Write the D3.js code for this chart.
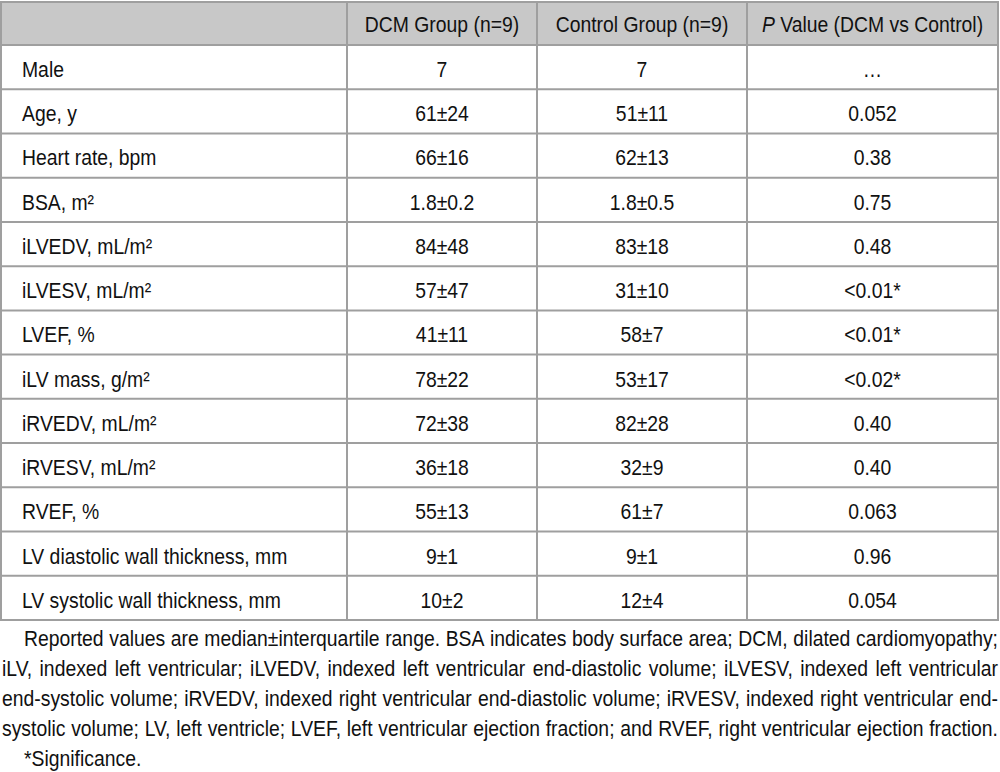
<!DOCTYPE html>
<html>
<head>
<meta charset="utf-8">
<script src="https://cdnjs.cloudflare.com/ajax/libs/d3/7.8.5/d3.min.js"></script>
<style>
  body { margin: 0; background: #fff; }
  svg { display: block; }
  text { font-family: "Liberation Sans", Arial, sans-serif; font-size: 22px; fill: #111; }
</style>
</head>
<body>
<script>
const width = 1000;
const height = 772;
const squeeze = 0.88; // narrow face: shrink glyphs horizontally

const columns = ["", "DCM Group (n=9)", "Control Group (n=9)", "Value (DCM vs Control)"];
const colEdges = [1, 347, 537, 747, 998];

const labels = ["Male", "Age, y", "Heart rate, bpm", "BSA, m²", "iLVEDV, mL/m²", "iLVESV, mL/m²",
  "LVEF, %", "iLV mass, g/m²", "iRVEDV, mL/m²", "iRVESV, mL/m²", "RVEF, %",
  "LV diastolic wall thickness, mm", "LV systolic wall thickness, mm"];
const dcm = ["7", "61±24", "66±16", "1.8±0.2", "84±48", "57±47", "41±11", "78±22", "72±38", "36±18", "55±13", "9±1", "10±2"];
const control = ["7", "51±11", "62±13", "1.8±0.5", "83±18", "31±10", "58±7", "53±17", "82±28", "32±9", "61±7", "9±1", "12±4"];
const pvals = ["…", "0.052", "0.38", "0.75", "0.48", "<0.01*", "<0.01*", "<0.02*", "0.40", "0.40", "0.063", "0.96", "0.054"];

// footnote, broken into lines as printed
const noteLines = [
  "Reported values are median±interquartile range. BSA indicates body surface area; DCM, dilated cardiomyopathy;",
  "iLV, indexed left ventricular; iLVEDV, indexed left ventricular end-diastolic volume; iLVESV, indexed left ventricular",
  "end-systolic volume; iRVEDV, indexed right ventricular end-diastolic volume; iRVESV, indexed right ventricular end-",
  "systolic volume; LV, left ventricle; LVEF, left ventricular ejection fraction; and RVEF, right ventricular ejection fraction."
];
const sigNote = "*Significance.";

const svg = d3.select("body").append("svg")
  .attr("width", width)
  .attr("height", height);

const y = d3.scaleLinear().domain([0, labels.length]).range([45, 620]);
const headTop = 2;

const lineColor = "#9f9f9f";

// header band
svg.append("rect")
  .attr("x", colEdges[0]).attr("y", headTop)
  .attr("width", colEdges[4] - colEdges[0]).attr("height", y(0) - headTop)
  .attr("fill", "#c8c8c8");

// horizontal rules
const hLines = [headTop].concat(d3.range(labels.length + 1).map(i => y(i)));
svg.append("g").selectAll("line")
  .data(hLines)
  .join("line")
  .attr("x1", colEdges[0] - 1).attr("x2", colEdges[4] + 1)
  .attr("y1", d => d).attr("y2", d => d)
  .attr("stroke", lineColor).attr("stroke-width", 2);

// vertical rules
svg.append("g").selectAll("line")
  .data(colEdges)
  .join("line")
  .attr("x1", d => d).attr("x2", d => d)
  .attr("y1", headTop).attr("y2", y(labels.length))
  .attr("stroke", lineColor).attr("stroke-width", 2);

function put(str, x, yy, anchor) {
  return svg.append("text")
    .attr("transform", `translate(${x},${yy}) scale(${squeeze},1)`)
    .attr("text-anchor", anchor || "start")
    .text(str);
}

const colMid = i => (colEdges[i] + colEdges[i + 1]) / 2;

// header texts
put(columns[1], colMid(1), 32, "middle");
put(columns[2], colMid(2), 32, "middle");
const pHead = svg.append("text")
  .attr("transform", `translate(${colMid(3)},32) scale(${squeeze},1)`)
  .attr("text-anchor", "middle");
pHead.append("tspan").attr("font-style", "italic").text("P");
pHead.append("tspan").text(" " + columns[3]);

// body rows
labels.forEach((l, i) => {
  const base = y(i) + 32;
  put(l, 22, base);
  put(dcm[i], colMid(1), base, "middle");
  put(control[i], colMid(2), base, "middle");
  put(pvals[i], colMid(3), base, "middle");
});

// justified footnote
const noteBase = 646, noteStep = 30, noteRight = 998;
noteLines.forEach((line, li) => {
  const x0 = li === 0 ? 24 : 2;
  const yy = noteBase + li * noteStep;
  const items = line.split(" ").map(w => {
    const t = put(w, 0, yy);
    return { t, w: t.node().getComputedTextLength() * squeeze };
  });
  const gap = (noteRight - x0 - d3.sum(items, d => d.w)) / (items.length - 1);
  let x = x0;
  items.forEach(d => {
    d.t.attr("transform", `translate(${x},${yy}) scale(${squeeze},1)`);
    x += d.w + gap;
  });
});
put(sigNote, 24, noteBase + noteLines.length * noteStep);
</script>
</body>
</html>
